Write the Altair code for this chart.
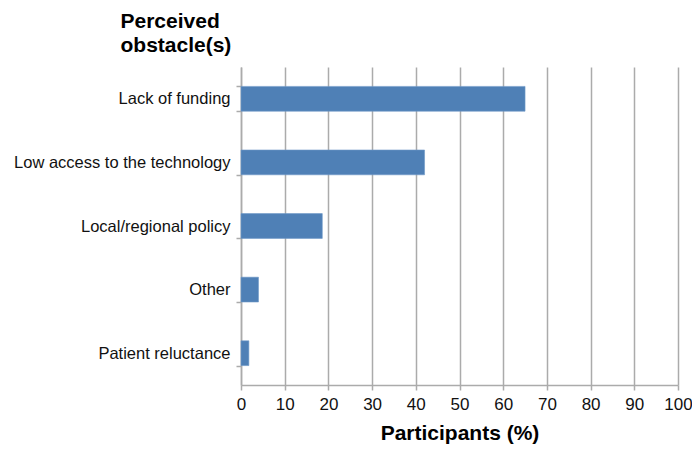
import altair as alt
import pandas as pd

obstacles = ["Lack of funding", "Low access to the technology", "Local/regional policy", "Other", "Patient reluctance"]
participants = [65.0, 42.0, 18.6, 4.0, 1.8]

df = pd.DataFrame({"obstacle": obstacles, "pct": participants})

grid_color = "#ABABAB"
font = "Liberation Sans"

chart = alt.Chart(df).mark_bar(color="#4F80B6", stroke="#6E98C8", strokeWidth=0.6).encode(
    x=alt.X("pct:Q",
            scale=alt.Scale(domain=[0, 100], nice=False),
            axis=alt.Axis(values=list(range(0, 101, 10)), title="Participants (%)",
                          grid=True, gridColor=grid_color, gridWidth=1.5,
                          domainColor=grid_color, domainWidth=1.5,
                          tickColor=grid_color, tickWidth=1.5, tickSize=5,
                          labelFont=font, labelFontSize=17, labelColor="#111",
                          labelPadding=6, labelFlush=False,
                          titleFont=font, titleFontSize=21, titleFontWeight="bold",
                          titleColor="#000", titlePadding=10)),
    y=alt.Y("obstacle:N", sort=obstacles,
            scale=alt.Scale(paddingInner=0.61, paddingOuter=0.305),
            axis=alt.Axis(title=["Perceived", "obstacle(s)"], titleAngle=0,
                          titleAlign="left", titleBaseline="alphabetic",
                          titleX=-121, titleY=-40, titleLineHeight=24,
                          titleFont=font, titleFontSize=21, titleFontWeight="bold",
                          titleColor="#000",
                          tickBand="extent", tickColor=grid_color, tickWidth=1.5, tickSize=5,
                          domainColor=grid_color, domainWidth=1.5,
                          labelFont=font, labelFontSize=16.5, labelColor="#111",
                          labelPadding=6, labelLimit=260)),
).properties(
    width=437, height=318,
    autosize=alt.AutoSizeParams(type="none"),
    padding={"left": 233, "top": 59, "right": 14, "bottom": 60},
).configure_view(stroke=None)

chart.save("out.html", embed_options={"renderer": "svg", "actions": False})
